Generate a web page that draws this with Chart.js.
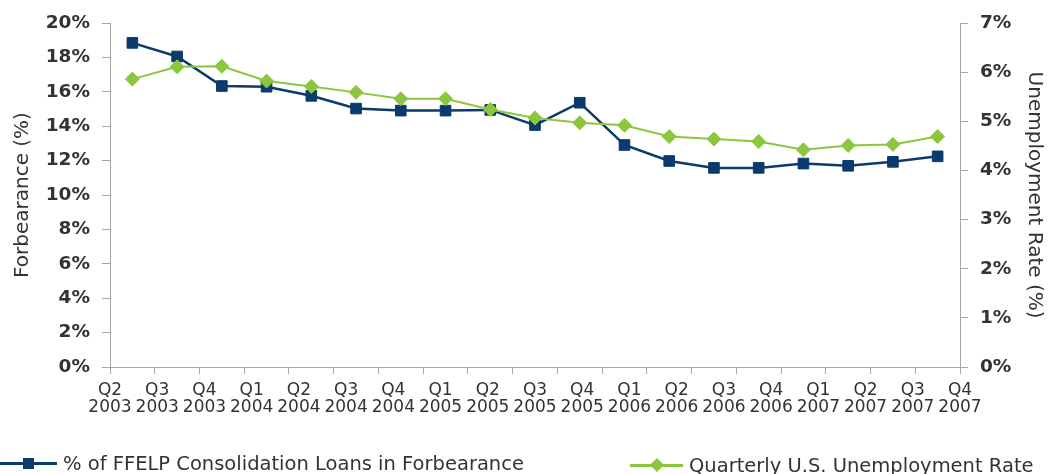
<!DOCTYPE html>
<html>
<head>
<meta charset="utf-8">
<script src="https://cdn.jsdelivr.net/npm/chart.js@4.4.1/dist/chart.umd.min.js"></script>
<style>
  html, body { margin: 0; padding: 0; background: #fff; overflow: hidden; }
  #wrap { position: relative; width: 1052px; height: 474px; }
  #legend { position: absolute; left: 0; top: 0; width: 1052px; height: 474px; pointer-events: none;
            font-family: 'DejaVu Sans', sans-serif; font-size: 19.5px; color: #333; }
  .item { position: absolute; display: flex; align-items: center; white-space: nowrap; height: 22px; }
  .icon { position: relative; height: 22px; margin-right: 6px; }
  .icon .ln { position: absolute; left: 0; right: 0; top: 10px; height: 3px; }
  .icon .mk { position: absolute; }
</style>
</head>
<body>
<div id="wrap">
  <canvas id="chart" width="1052" height="420"></canvas>
  <div id="legend"></div>
</div>
<script>
const quarters = ['Q2 2003', 'Q3 2003', 'Q4 2003', 'Q1 2004', 'Q2 2004', 'Q3 2004', 'Q4 2004',
  'Q1 2005', 'Q2 2005', 'Q3 2005', 'Q4 2005', 'Q1 2006', 'Q2 2006', 'Q3 2006', 'Q4 2006',
  'Q1 2007', 'Q2 2007', 'Q3 2007', 'Q4 2007'];

// % of FFELP consolidation loans in forbearance (left axis)
const forbearance = [18.85, 18.06, 16.34, 16.3, 15.77, 15.03, 14.91, 14.91, 14.95, 14.07,
  15.37, 12.91, 11.98, 11.58, 11.58, 11.83, 11.7, 11.93, 12.25];

// quarterly US unemployment rate (right axis)
const unemployment = [5.86, 6.11, 6.12, 5.82, 5.71, 5.59, 5.46, 5.46, 5.24, 5.07,
  4.97, 4.92, 4.69, 4.64, 4.59, 4.42, 4.51, 4.53, 4.69];

const leftTicks = [0, 2, 4, 6, 8, 10, 12, 14, 16, 18, 20];
const rightTicks = [0, 1, 2, 3, 4, 5, 6, 7];

const navy = '#0b3a6c';
const green = '#8cc63f';
const axisGray = '#a6a6a6';
const textColor = '#333';

const chart = new Chart(document.getElementById('chart'), {
  type: 'line',
  data: {
    labels: quarters,
    datasets: [{
      label: '% of FFELP Consolidation Loans in Forbearance',
      data: forbearance,
      yAxisID: 'y',
      borderColor: navy,
      backgroundColor: navy,
      borderWidth: 2.5,
      pointStyle: 'rect',
      pointRadius: 7.5,
      pointBorderWidth: 1,
      tension: 0,
      order: 2
    }, {
      label: 'Quarterly U.S. Unemployment Rate',
      data: unemployment,
      yAxisID: 'y1',
      borderColor: green,
      backgroundColor: green,
      borderWidth: 2,
      pointStyle: 'rectRot',
      pointRadius: 7,
      pointBorderWidth: 1,
      tension: 0,
      order: 1
    }]
  },
  options: {
    responsive: false,
    animation: false,
    layout: { padding: { top: 17, left: 0, right: 0, bottom: 0 } },
    plugins: {
      legend: { display: false },
      tooltip: { enabled: false }
    },
    scales: {
      x: {
        type: 'category',
        position: 'bottom',
        weight: 0,
        offset: true,
        grid: { offset: true, drawOnChartArea: false, tickLength: 7, color: axisGray },
        border: { color: axisGray },
        ticks: { display: false },
        afterFit: (s) => { s.height = 7; }
      },
      xl: {
        type: 'linear',
        position: 'bottom',
        weight: 1,
        min: 0,
        max: quarters.length - 1,
        grid: { display: false },
        border: { display: false },
        ticks: {
          stepSize: 1,
          autoSkip: false,
          maxRotation: 0,
          padding: 0,
          color: textColor,
          font: { family: 'DejaVu Sans', size: 17, lineHeight: 1.0 },
          callback: (v) => quarters[v] ? quarters[v].split(' ') : ''
        },
        afterFit: (s) => { s.height = 46; }
      },
      y: {
        position: 'left',
        min: leftTicks[0],
        max: leftTicks[leftTicks.length - 1],
        afterBuildTicks: (s) => { s.ticks = leftTicks.map(v => ({ value: v })); },
        grid: { drawOnChartArea: false, tickLength: 8, color: axisGray },
        border: { color: axisGray },
        ticks: {
          padding: 12,
          color: textColor,
          font: { family: 'DejaVu Sans', size: 18.5, weight: 'bold' },
          callback: (v) => v + '%'
        },
        title: {
          display: true,
          text: 'Forbearance (%)',
          color: textColor,
          font: { family: 'DejaVu Sans', size: 20 },
          padding: { top: 11, bottom: 0 }
        },
        afterFit: (s) => { s.width = 110; }
      },
      y1: {
        position: 'right',
        min: rightTicks[0],
        max: rightTicks[rightTicks.length - 1],
        afterBuildTicks: (s) => { s.ticks = rightTicks.map(v => ({ value: v })); },
        grid: { drawOnChartArea: false, tickLength: 8, color: axisGray },
        border: { color: axisGray },
        ticks: {
          padding: 12,
          color: textColor,
          font: { family: 'DejaVu Sans', size: 18.5, weight: 'bold' },
          callback: (v) => v + '%'
        },
        title: {
          display: true,
          text: 'Unemployment Rate (%)',
          color: textColor,
          font: { family: 'DejaVu Sans', size: 20 },
          padding: { top: 6, bottom: 0 }
        },
        afterFit: (s) => { s.width = 92; }
      }
    }
  }
});

// html legend built from the datasets (line sample + marker + label)
const legendSpots = [{ left: 0, top: 452, w: 57 }, { left: 630, top: 454, w: 53 }];
const legendEl = document.getElementById('legend');
chart.data.datasets.forEach((ds, i) => {
  const spot = legendSpots[i];
  const item = document.createElement('div');
  item.className = 'item';
  item.style.left = spot.left + 'px';
  item.style.top = spot.top + 'px';
  const icon = document.createElement('div');
  icon.className = 'icon';
  icon.style.width = spot.w + 'px';
  const ln = document.createElement('div');
  ln.className = 'ln';
  ln.style.background = ds.borderColor;
  icon.appendChild(ln);
  const mk = document.createElement('div');
  mk.className = 'mk';
  mk.style.background = ds.backgroundColor;
  if (ds.pointStyle === 'rectRot') {
    mk.style.width = '10px'; mk.style.height = '10px';
    mk.style.left = (spot.w / 2 - 5) + 'px'; mk.style.top = '6px';
    mk.style.transform = 'rotate(45deg)';
  } else {
    mk.style.width = '11px'; mk.style.height = '11px';
    mk.style.left = (spot.w / 2 - 5.5) + 'px'; mk.style.top = '5.5px';
  }
  icon.appendChild(mk);
  const txt = document.createElement('span');
  txt.textContent = ds.label;
  item.appendChild(icon);
  item.appendChild(txt);
  legendEl.appendChild(item);
});
</script>
</body>
</html>
